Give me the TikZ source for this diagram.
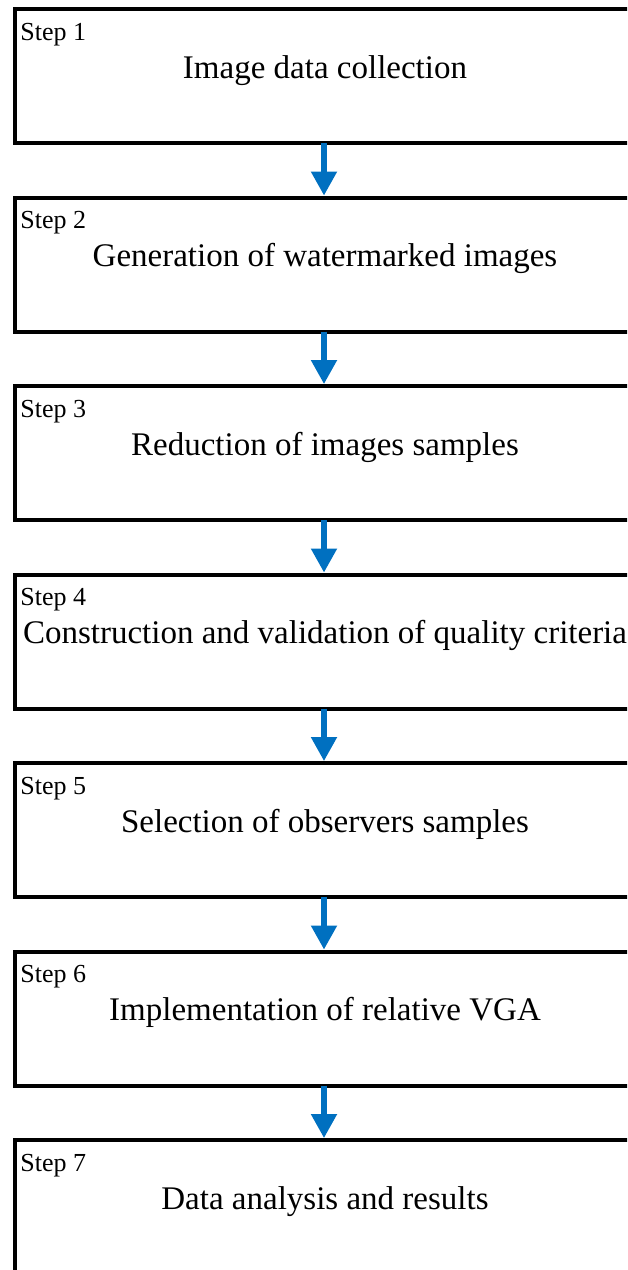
\documentclass[tikz,border=0pt]{standalone}
\usepackage{fontspec}
\setmainfont{Liberation Serif}
\usetikzlibrary{arrows.meta}
\definecolor{arrowblue}{RGB}{0,112,192}
\begin{document}
\begin{tikzpicture}[x=0.5pt,y=-0.5pt,
  stepbox/.style={draw=black,line width=2pt,minimum width=310.5pt,minimum height=67pt,inner sep=0pt,outer sep=0pt},
  steplabel/.style={font=\fontsize{13}{15}\selectfont,inner sep=0pt,anchor=base west},
  maintext/.style={font=\fontsize{16.5}{19}\selectfont,inner sep=0pt,anchor=base},
  flowarrow/.style={draw=arrowblue,line width=2.6pt,-{Triangle[width=12.5pt,length=12pt]},shorten >=1pt}]
\useasboundingbox (0,0) rectangle (627,1270);
\clip (0,0) rectangle (627,1270);
\foreach \k/\txt in {1/Image data collection,
                    2/Generation of watermarked images,
                    3/Reduction of images samples,
                    4/Construction and validation of quality criteria,
                    5/Selection of observers samples,
                    6/Implementation of relative VGA,
                    7/Data analysis and results}{
  \pgfmathsetmacro{\top}{9+188.5*(\k-1)}
  \node[stepbox] (b\k) at (325,\top+67) {};
  \node[steplabel] (s\k) at (20,\top+31) {Step \k};
  \node[maintext] (t\k) at (325,\top+69) {\txt};
}
\foreach \a/\b in {1/2,2/3,3/4,4/5,5/6,6/7}{
  \draw[flowarrow] ([xshift=-0.5pt]b\a.south) -- ([xshift=-0.5pt]b\b.north);
}
\end{tikzpicture}
\end{document}
